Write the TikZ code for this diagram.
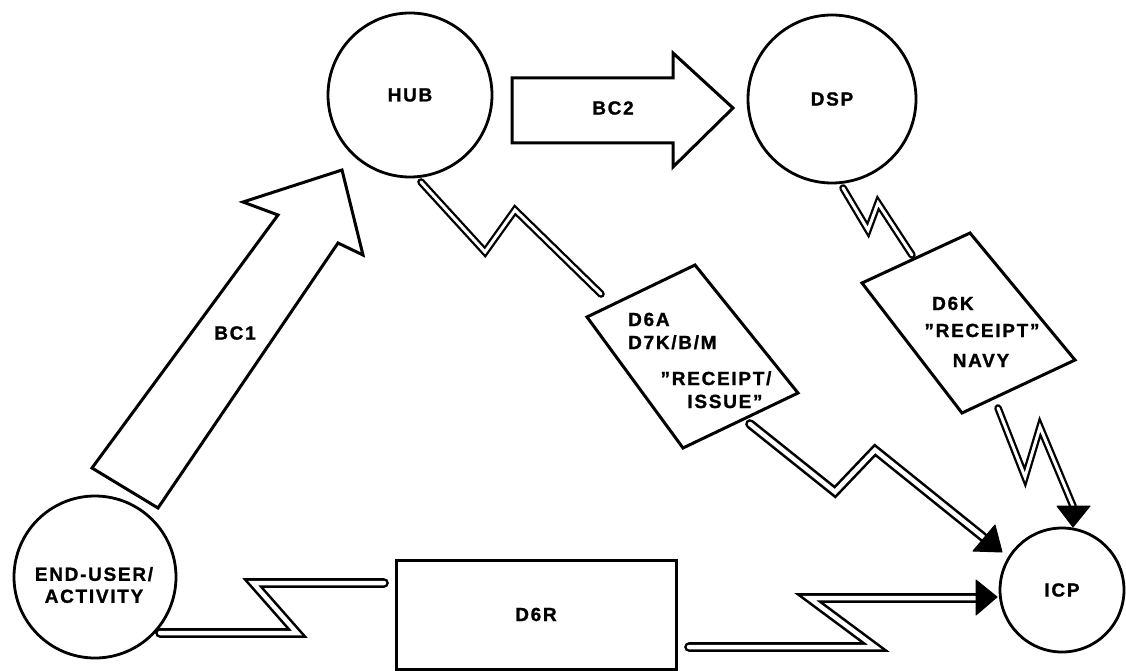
\documentclass[tikz,border=0pt]{standalone}
\usepackage{fontspec}
\setmainfont{Liberation Sans}[LetterSpace=9, BoldFeatures={FakeBold=1.2}]
\begin{document}
\begin{tikzpicture}[x=1pt,y=-1pt,
  every node/.style={font=\fontsize{19}{22}\selectfont\bfseries, inner sep=0pt},
  ent/.style={draw, circle, line width=2.8pt},
  outline/.style={draw, line width=3pt, line join=miter},
  zig/.style={draw=black, line width=2.6pt, double=white, double distance=4.5pt, line join=miter, line cap=round},
  zigthin/.style={zig, line width=2.3pt, double distance=3pt},
  head/.style={fill=black, draw=black, line width=1pt, line join=round}
]
\useasboundingbox (0,0) rectangle (1126,671);

% entities
\node[ent, minimum size=164pt] (hub) at (410,95) {HUB};
\node[ent, minimum size=168pt] (dsp) at (832,99) {DSP};
\node[ent, minimum size=162pt] (user) at (95,577) {};
\node[align=center] (usert) at (94,585) {END-USER/\\ACTIVITY};
\node[ent, minimum size=124pt] (icp) at (1062,590) {ICP};
\node[draw, line width=3pt, minimum width=280pt, minimum height=109pt] (d6r) at (536,614.5) {D6R};

% tilted document boxes
\coordinate (a1) at (695,265); \coordinate (a2) at (798,393);
\coordinate (a3) at (683,448); \coordinate (a4) at (587,317);
\draw[outline] (a1) -- (a2) -- (a3) -- (a4) -- cycle;
\node[anchor=base west] (d6a) at (628,326) {D6A};
\node[anchor=base west] (d7k) at (628,349) {D7K/B/M};
\node[anchor=base] (rcpt1) at (716,385) {\char34 RECEIPT/};
\node[anchor=base] (issue) at (725,408) {ISSUE\char34};

\coordinate (k1) at (970,233); \coordinate (k2) at (1075,360);
\coordinate (k3) at (962,413); \coordinate (k4) at (862,283);
\draw[outline] (k1) -- (k2) -- (k3) -- (k4) -- cycle;
\node[anchor=base west] (d6k) at (932,310) {D6K};
\node[anchor=base] (rcpt2) at (982,337) {\char34 RECEIPT\char34};
\node[anchor=base] (navy) at (981,367) {NAVY};

% block arrows
\draw[outline] (92,468) -- (158,508) -- (338,243) -- (363,255) -- (342,170) -- (243,202) -- (278,215) -- cycle;
\node (bc1) at (235,333) {BC1};
\draw[outline] (512,78) -- (673,78) -- (673,53) -- (733,108) -- (673,167) -- (673,143) -- (512,143) -- cycle;
\node (bc2) at (613,108) {BC2};

% zigzag connectors
\coordinate (z1s) at (421,182); \coordinate (z1e) at (601,294);
\draw[zigthin] (z1s) -- (485,252) -- (515,210) -- (z1e);

\coordinate (z2s) at (750,424); \coordinate (z2e) at (983,537);
\draw[zig] (z2s) -- (835,492) -- (875,450) -- (z2e);
\fill[head] (973,551) -- (995,525) -- (1002,552) -- cycle;

\coordinate (z3s) at (998,408); \coordinate (z3e) at (1073,506);
\draw[zigthin] (z3s) -- (1025,477) -- (1040,427) -- (z3e);
\fill[head] (1057,506) -- (1090,506) -- (1073,527) -- cycle;

\coordinate (z4s) at (843,188); \coordinate (z4e) at (912,255);
\draw[zigthin] (z4s) -- (868,230) -- (878,203) -- (z4e);

\coordinate (z5s) at (160,633); \coordinate (z5e) at (384,583);
\draw[zig] (z5s) -- (297,633) -- (253,583) -- (z5e);

\coordinate (z6s) at (689,647); \coordinate (z6e) at (977,598);
\draw[zig] (z6s) -- (875,647) -- (809,598) -- (z6e);
\fill[head] (976,580) -- (976,615) -- (997,597) -- cycle;
\end{tikzpicture}
\end{document}
